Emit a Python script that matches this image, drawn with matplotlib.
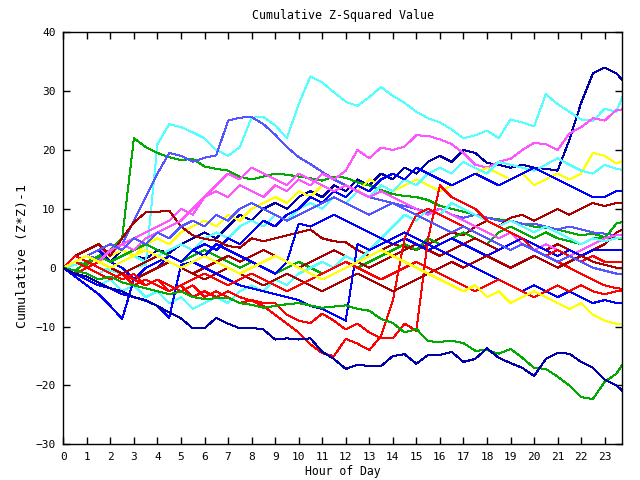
import numpy as np
import matplotlib
matplotlib.use("Agg")
import matplotlib.pyplot as plt

# half-hour grid, 0..24
hours = np.arange(0, 24.5, 0.5)

dblue_top = [0, 1, 0.5, 2, 1, 3, 2, 1.5,
             3, 2.5, 4, 5, 6, 5, 7, 9,
             8, 10, 11, 10, 12, 13, 12, 14,
             13, 15, 14, 16, 15, 17, 16, 18,
             19, 18, 20, 19.5, 17.8, 17.5, 17, 17.5,
             17, 16.8, 16.5, 21.7, 28, 33, 34, 33,
             30.8]
cyan_top = [0, 0.5, 1, 0, -0.5, -1, 0, 0.5,
            21, 24.4, 23.9, 23, 22, 20, 19, 20.5,
            25.5, 25.6, 24.2, 22, 27.8, 32.5, 31.5, 29.8,
            28.2, 27.5, 29, 30.7, 29.2, 28, 26.5, 25.4,
            24.7, 23.5, 22, 22.5, 23.3, 22, 25.2, 24.7,
            24, 29.5, 27.8, 26.5, 25.2, 24.9, 27, 26.5,
            31.5]
green_jump = [0, -0.5, 1, 2, 3, 5, 22, 20.5,
              19.5, 18.8, 18.3, 18.5, 17.2, 16.8, 16.5, 15.5,
              15, 15.5, 16, 15.8, 15.5, 15.2, 14.8, 15.5,
              15.3, 14.5, 14, 13.2, 12.5, 12.2, 12, 11.5,
              10.5, 10, 9.5, 9, 8.5, 8.2, 8, 7.5,
              7, 6.8, 6.5, 6, 5.5, 5.8, 5.2, 5,
              4.8]
mblue_peak = [0, 1, 2, 1.5, 3, 4, 8, 12,
              16, 19.5, 19, 18, 18.7, 19.1, 25, 25.5,
              25.6, 24.4, 22.6, 20.5, 18.8, 17.6, 16.3, 15,
              14, 13, 12, 11.5, 11, 10.5, 10, 9.5,
              10, 9, 8.5, 9, 8.5, 8, 8, 7.5,
              7.5, 7, 6.5, 7, 6.5, 6, 5.8, 5.5,
              5.5]
magenta_top = [0, 1, 2, 3, 2.5, 4, 5, 6,
               7, 8, 10, 9, 12, 13, 12, 14,
               13, 12, 14, 13, 15, 14, 16, 15,
               16.5, 20, 18.6, 20.4, 20, 20.6, 22.5, 22.4,
               21.8, 21, 19.5, 17.5, 17, 18, 18.5, 20,
               21.2, 21, 20, 22.8, 23.9, 25.4, 25, 26.8,
               27]
yellow_hi = [0, -1, 0, 1, 2, 3, 2, 4,
             5, 4, 6, 7, 8, 7, 9, 8,
             10, 11, 12, 11, 13, 12, 14, 13,
             14, 13, 15, 14, 13, 14, 15, 14,
             13, 14, 15, 16, 17, 16, 15, 16,
             14, 15, 16, 15, 16, 19.5, 19, 17.7,
             18.5]
cyan_mid = [0, 1, 0, -1, 0, 1, 2, 1,
            2, 3, 4, 3, 5, 6, 5, 7,
            8, 7, 9, 8, 10, 11, 10, 12,
            11, 13, 12, 14, 13, 15, 14, 16,
            17, 16, 18, 17, 16, 18, 17.5, 17,
            16.5, 17.5, 18.6, 17.5, 16.5, 16, 17.5, 16.8,
            16.5]
blue_13 = [0, 1, 2, 3, 1, 0, -2, -1,
           0, 2, 1, 3, 4, 3, 5, 4,
           6, 8, 7, 9, 10, 12, 11, 13,
           12, 14, 13, 15, 16, 15, 17, 16,
           15, 14, 15, 16, 15, 14, 15, 16,
           17, 16, 15, 14, 13, 12, 12, 13,
           13]
dred_11 = [0, 2, 3, 4, 2, 5, 7.7, 9.4,
           9.5, 9.7, 7, 5.5, 4.9, 4.6, 3.7, 3.4,
           5, 4.5, 5, 5.5, 6, 6.5, 5, 4.5,
           4.3, 3, 2, 3, 4, 3.5, 3, 4,
           5, 6, 5.5, 7, 8, 7, 8.5, 9,
           8, 9, 10, 9, 10, 11, 10.5, 11,
           11]
green_8 = [0, 1, 0.5, 2, 1, 2, 3, 4,
           3, 2, 1, 2, 3, 2, 1, 0,
           1, 0, -1, 0, 1, 0, -1, 0,
           1, 0, 1, 2, 3, 4, 3, 5,
           4, 5, 6, 5, 4, 6, 7, 6,
           5, 6, 5, 4.5, 4, 5, 5, 7.5,
           8]
dred_7 = [0, -1, 0, 1, 0, -1, -2, -1,
          0, 1, 0, -1, 0, 1, 2, 1,
          2, 3, 2, 1, 0, 1, 2, 3,
          2, 1, 0, 1, 2, 3, 4, 3,
          2, 3, 4, 5, 4, 3, 4, 5,
          4, 3, 4, 3, 2, 3, 4, 6,
          7]
magenta_5 = [0, 1, 2, 1, 3, 4, 3, 5,
             6, 7, 8, 10, 12, 14, 16, 15,
             17, 16, 15, 14, 16, 15, 14, 13,
             14, 13, 12, 13, 12, 11, 10, 9,
             10, 9, 8, 7, 6, 5, 6, 4,
             3, 4, 3, 2, 3, 4, 5, 5.5,
             5.5]
cyan_5 = [0, -1, -2, -3, -2, -4, -3, -5,
          -4, -6, -5, -7, -6, -5, -6, -4,
          -3, -4, -2, -3, -1, 0, 1, 0,
          2, 1, 3, 5, 7, 9, 8, 10,
          9, 11, 10, 9, 8, 7, 8, 7,
          6, 7, 6, 5, 4, 5, 4.5, 5,
          5]
blue_3 = [0, -1.5, -3, -4.5, -6.5, -8.7, -2, 0,
          1, 2, 1, 3, 2, 4, 3, 2,
          1, 0, -1, 1, 7.5, 7, 8, 9,
          8, 7, 6, 5, 4, 5, 4, 3,
          4, 5, 4, 3, 2, 3, 4, 5,
          4, 3, 2, 3, 2, 3, 3, 3,
          3]
red_jump_a = [0, 1, 0, -1, -2, -1, -3, -2,
              -3, -4, -3, -5, -4, -5, -4, -5,
              -5.6, -6.5, -8, -9.5, -11, -13, -14.5, -15,
              -12.1, -12.9, -14, -11.6, -5.6, 5, 9, 10,
              9, 8, 7, 6, 5, 4, 3, 4,
              3, 2, 3, 2, 1, 2, 1, 1,
              1]
red_jump_b = [0, -1, 0, 1, 0, -1, -2, -3,
              -2, -3, -4, -3, -5, -4, -5, -6,
              -5.5, -6, -6, -8, -9, -9.4, -7.8, -9,
              -10.5, -9.5, -11, -12, -12, -9.5, -10.7, 5,
              14, 12, 11, 10, 8, 7, 6, 5,
              3, 2, 1, 0, -1, -2, -3, -3.5,
              -3.6]
dred_0 = [0, 1, 2, 1, 0, -1, 0, 1,
          2, 1, 0, -1, -2, -1, 0, -1,
          -2, -3, -2, -1, -2, -3, -4, -3,
          -2, -1, -2, -3, -4, -3, -2, -1,
          0, 1, 0, 1, 2, 1, 0, 1,
          2, 1, 0, 1, 2, 1, 0.5, 0,
          0]
mblue_low = [0, 1, 2, 3, 4, 3, 5, 4,
             6, 5, 7, 8, 7, 9, 8, 10,
             11, 10, 9, 8, 9, 10, 11, 12,
             11, 10, 9, 10, 11, 10, 9, 8,
             7, 6, 7, 6, 5, 4, 3, 4,
             3, 2, 1, 2, 1, 0, -0.5, -1,
             -1]
blue_low = [0, -1, -2, -3, -3.5, -4.5, -5, -5.6,
            -6.5, -8.5, 0.5, 1, 0, -1, -2, -3,
            -3.5, -4, -4.5, -5, -5.5, -6.5, -7, -8,
            -9, 4, 3, 4, 5, 6, 5, 4,
            3, 2, 1, 0, -1, -2, -3, -4,
            -3, -4, -5, -4, -5, -6, -5.5, -6,
            -6]
red_low = [0, 2, 1, 0, -1, -2, -1, -3,
           -2, -4, -3, -2, -1, -2, -3, -2,
           -1, -2, -3, -4, -3, -2, -1, 0,
           1, 0, -1, -2, -1, 0, 1, 0,
           -1, -2, -3, -4, -3, -2, -3, -4,
           -5, -4, -3, -4, -3, -4, -4.5, -4,
           -4]
yellow_low = [0, 1, 2, 1, 0, 1, 2, 3,
              2, 1, 0, 1, 2, 1, 0, -1,
              0, 1, 2, 1, 0, -1, -2, -1,
              0, 1, 2, 3, 2, 1, 0, -1,
              -2, -3, -4, -3, -5, -4, -6, -5,
              -4, -5, -6, -7, -6, -8, -9, -9.5,
              -9.5]
green_bottom = [0, -0.5, -1, -2, -1.5, -2.5, -3, -3.5,
                -4, -4.5, -4, -5, -5.3, -5.2, -5.1, -6,
                -6.3, -6.8, -6.5, -6.2, -6, -6.4, -6.8, -6.6,
                -6.4, -7, -7.3, -8.7, -9.4, -11, -10.4, -12.5,
                -12.6, -12.4, -12.8, -14.1, -14, -14.6, -13.8, -15.3,
                -17, -17.2, -18.5, -20, -22, -22.3, -19.4, -18,
                -15]
dblue_bottom = [0, -1, -1.5, -2.5, -3.5, -4, -5, -5.5,
                -6.5, -7.6, -8.6, -10.3, -10.3, -8.5, -9.5, -10.3,
                -10.2, -10.5, -12.2, -12, -12.2, -12, -14.3, -15.5,
                -17.2, -16.5, -16.7, -16.7, -15, -14.7, -16.3, -14.8,
                -14.8, -14.3, -16, -15.5, -13.7, -15.3, -16.2, -17,
                -18.4, -15.5, -14.5, -14.6, -16, -17, -19, -20,
                -21.8]

series = [
    (dblue_top, "#0000aa"), (cyan_top, "#55ffff"), (green_jump, "#00aa00"),
    (mblue_peak, "#5555ff"), (magenta_top, "#ff55ff"), (yellow_hi, "#ffff00"),
    (cyan_mid, "#55ffff"), (blue_13, "#0000ff"), (dred_11, "#aa0000"),
    (green_8, "#00aa00"), (dred_7, "#aa0000"), (magenta_5, "#ff55ff"),
    (cyan_5, "#55ffff"), (blue_3, "#0000ff"), (red_jump_a, "#ff0000"),
    (red_jump_b, "#ff0000"), (dred_0, "#aa0000"), (mblue_low, "#5555ff"),
    (blue_low, "#0000ff"), (red_low, "#ff0000"), (yellow_low, "#ffff00"),
    (green_bottom, "#00aa00"), (dblue_bottom, "#0000aa"),
]

plt.rcParams["font.family"] = "DejaVu Sans Mono"
fig = plt.figure(figsize=(6.4, 4.8), dpi=100)
ax = fig.add_axes([63.3 / 640, 35.7 / 480, 559 / 640, 412 / 480])

for vals, col in series:
    ax.plot(hours, vals, color=col, lw=0.72, antialiased=False)

ax.set_xlim(0, 23.75)
ax.set_ylim(-30, 40)
ax.set_xticks(range(24))
ax.set_yticks(range(-30, 41, 10))
ax.tick_params(direction="in", length=5, width=1, top=True, right=True,
               labelsize=8, pad=5.5)
for s in ax.spines.values():
    s.set_linewidth(1)

# title and axis labels placed where the reference has them
fig.text(343 / 640, 1 - 16 / 480, "Cumulative Z-Squared Value", ha="center",
         va="center", fontsize=8.4)
fig.text(343 / 640, 1 - 471 / 480, "Hour of Day", ha="center",
         va="center", fontsize=8.3)
fig.text(23 / 640, 1 - 256 / 480, "Cumulative (Z*Z)-1", ha="center",
         va="center", rotation=90, fontsize=9.5)

fig.savefig("out.png", dpi=100)
